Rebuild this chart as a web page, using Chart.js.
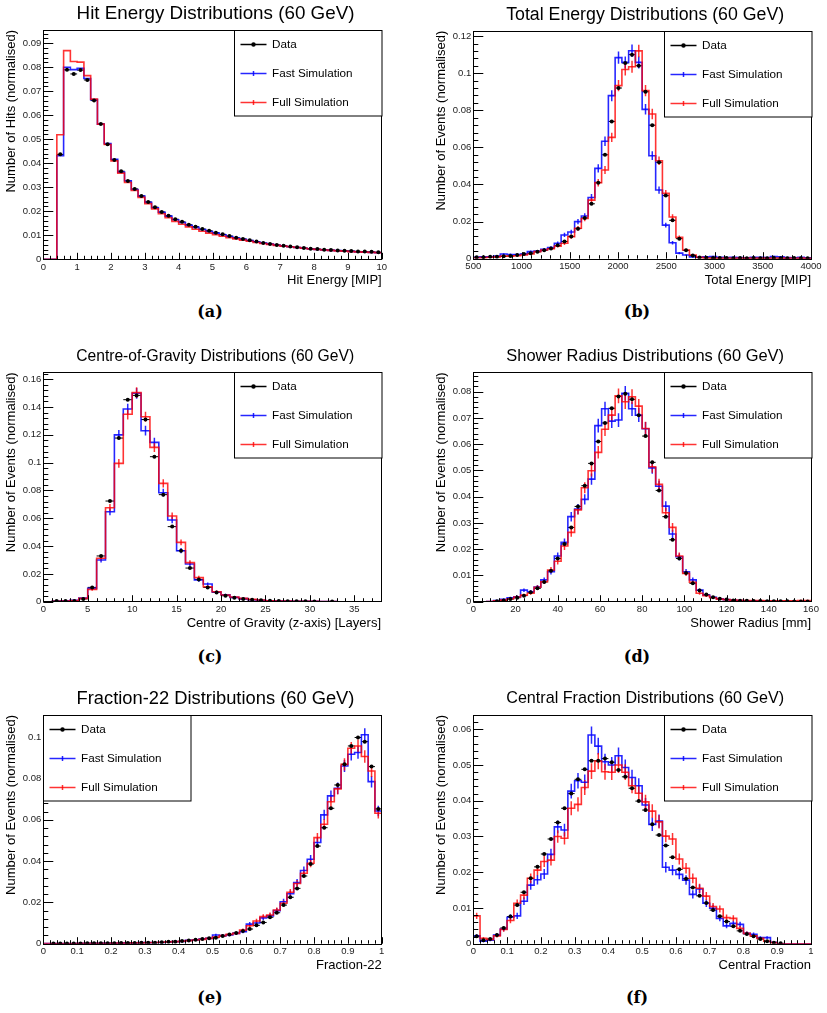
<!DOCTYPE html>
<html lang="en">
<head>
<meta charset="UTF-8">
<title>Distributions (60 GeV)</title>
<script src="https://cdn.jsdelivr.net/npm/chart.js"></script>
<style>
  body { margin: 0; background: #fff; }
  #page { position: relative; width: 827px; height: 1013px; overflow: hidden; background: #fff; }
  canvas { position: absolute; }
  .cap { position: absolute; font: bold 16px "DejaVu Serif", "Liberation Serif", serif; transform: translate(-50%, -50%); color: #000; }
</style>
</head>
<body>
<div id="page">
  <canvas id="hit"></canvas>
  <canvas id="tot"></canvas>
  <canvas id="cog"></canvas>
  <canvas id="rad"></canvas>
  <canvas id="f22"></canvas>
  <canvas id="cf"></canvas>
  <div class="cap" style="left:210px;top:311px">(a)</div>
  <div class="cap" style="left:637px;top:311px">(b)</div>
  <div class="cap" style="left:210px;top:656px">(c)</div>
  <div class="cap" style="left:637px;top:656px">(d)</div>
  <div class="cap" style="left:210px;top:997px">(e)</div>
  <div class="cap" style="left:637px;top:997px">(f)</div>
</div>
<script>
// ---- (a) hit energy, 50 bins 0..10 MIP
const hitXTicks = [0, 1, 2, 3, 4, 5, 6, 7, 8, 9, 10];
const hitYTicks = [0, 0.01, 0.02, 0.03, 0.04, 0.05, 0.06, 0.07, 0.08, 0.09];
const hitData = [null, null, 0.0437, 0.0789, 0.0772, 0.0788, 0.0747, 0.0661, 0.0564, 0.0479,
  0.0414, 0.0367, 0.0326, 0.0293, 0.0264, 0.0239, 0.0217, 0.0197, 0.0181, 0.0167,
  0.0156, 0.0144, 0.0136, 0.0126, 0.0119, 0.0111, 0.0104, 0.0097, 0.0090, 0.0085,
  0.0079, 0.0074, 0.0068, 0.0064, 0.0060, 0.0056, 0.0053, 0.0050, 0.0047, 0.0044,
  0.0043, 0.0040, 0.0039, 0.0037, 0.0036, 0.0035, 0.0033, 0.0032, 0.0031, 0.0029];
const hitFast = [0, 0, 0.0431, 0.0800, 0.0790, 0.0795, 0.0753, 0.0665, 0.0563, 0.0482,
  0.0417, 0.0363, 0.0327, 0.0291, 0.0263, 0.0237, 0.0215, 0.0196, 0.0180, 0.0165,
  0.0153, 0.0142, 0.0133, 0.0124, 0.0116, 0.0109, 0.0102, 0.0095, 0.0089, 0.0083,
  0.0078, 0.0073, 0.0068, 0.0063, 0.0059, 0.0055, 0.0052, 0.0049, 0.0046, 0.0043,
  0.0041, 0.0039, 0.0037, 0.0036, 0.0034, 0.0033, 0.0031, 0.0030, 0.0029, 0.0028];
const hitFull = [0, 0, 0.0519, 0.0869, 0.0824, 0.0821, 0.0765, 0.0667, 0.0563, 0.0478,
  0.0410, 0.0359, 0.0320, 0.0287, 0.0258, 0.0232, 0.0210, 0.0190, 0.0173, 0.0158,
  0.0146, 0.0135, 0.0125, 0.0117, 0.0109, 0.0102, 0.0096, 0.0090, 0.0085, 0.0080,
  0.0075, 0.0070, 0.0066, 0.0062, 0.0058, 0.0055, 0.0052, 0.0049, 0.0046, 0.0043,
  0.0041, 0.0039, 0.0037, 0.0035, 0.0034, 0.0032, 0.0031, 0.0030, 0.0029, 0.0028];

// ---- (b) total energy, 50 bins 500..4000 MIP
const totXTicks = [500, 1000, 1500, 2000, 2500, 3000, 3500, 4000];
const totYTicks = [0, 0.02, 0.04, 0.06, 0.08, 0.1, 0.12];
const totData = [0.0008, 0.0008, 0.0010, 0.0010, 0.0013, 0.0015, 0.0020, 0.0025, 0.0030, 0.0037,
  0.0045, 0.0055, 0.0072, 0.0093, 0.0120, 0.0162, 0.0220, 0.0296, 0.0410, 0.0560,
  0.0740, 0.0920, 0.1055, 0.1100, 0.1040, 0.0900, 0.0720, 0.0520, 0.0340, 0.0207,
  0.0108, 0.0045, 0.0017, 0.0007, 0.0005, 0.0004, 0.0004, 0.0004, 0.0003, 0.0004,
  0.0003, 0.0004, 0.0003, 0.0003, 0.0004, 0.0003, 0.0003, 0.0004, 0.0003, 0.0003];
const totFast = [0.0007, 0.0010, 0.0010, 0.0014, 0.0025, 0.0023, 0.0023, 0.0025, 0.0038, 0.0041,
  0.0050, 0.0060, 0.0083, 0.0128, 0.0144, 0.0200, 0.0230, 0.0330, 0.0487, 0.0633,
  0.0879, 0.1084, 0.1058, 0.1121, 0.1058, 0.0805, 0.0555, 0.0370, 0.0181, 0.0086,
  0.0030, 0.0020, 0.0010, 0.0008, 0.0010, 0.0012, 0.0008, 0.0006, 0.0008, 0.0006,
  0.0005, 0.0007, 0.0008, 0.0006, 0.0012, 0.0010, 0.0006, 0.0005, 0.0007, 0.0005];
const totFull = [0.0005, 0.0006, 0.0008, 0.0010, 0.0014, 0.0014, 0.0016, 0.0020, 0.0025, 0.0038,
  0.0047, 0.0054, 0.0068, 0.0083, 0.0119, 0.0164, 0.0217, 0.0316, 0.0410, 0.0478,
  0.0654, 0.0933, 0.1020, 0.1035, 0.1120, 0.0906, 0.0780, 0.0528, 0.0352, 0.0225,
  0.0115, 0.0047, 0.0020, 0.0007, 0.0004, 0.0003, 0.0003, 0.0003, 0.0002, 0.0003,
  0.0003, 0.0002, 0.0003, 0.0003, 0.0002, 0.0003, 0.0003, 0.0002, 0.0003, 0.0002];

// ---- (c) centre of gravity, 38 bins 0..38 layers
const cogXTicks = [0, 5, 10, 15, 20, 25, 30, 35];
const cogYTicks = [0, 0.02, 0.04, 0.06, 0.08, 0.1, 0.12, 0.14, 0.16];
const cogData = [null, 0.0005, 0.0005, 0.0005, 0.0020, 0.0103, 0.0329, 0.0724, 0.1177, 0.1453,
  0.1484, 0.1310, 0.1043, 0.0770, 0.0540, 0.0367, 0.0242, 0.0160, 0.0103, 0.0067,
  0.0043, 0.0029, 0.0019, 0.0014, 0.0010, 0.0007, 0.0005, 0.0003, 0.0003, 0.0003,
  0.0002, null, 0.0002, null, null, null, null, null];
const cogFast = [0, 0.0003, 0.0007, 0.0010, 0.0026, 0.0096, 0.0300, 0.0647, 0.1200, 0.1386,
  0.1499, 0.1230, 0.1146, 0.0784, 0.0588, 0.0367, 0.0271, 0.0156, 0.0127, 0.0070,
  0.0050, 0.0031, 0.0022, 0.0014, 0.0010, 0.0007, 0.0005, 0.0004, 0.0003, 0.0002,
  0.0002, 0.0001, 0.0001, 0, 0, 0, 0, 0];
const cogFull = [0, 0.0002, 0.0005, 0.0008, 0.0024, 0.0089, 0.0312, 0.0676, 0.0995, 0.1348,
  0.1504, 0.1330, 0.1110, 0.0851, 0.0616, 0.0427, 0.0281, 0.0173, 0.0108, 0.0072,
  0.0048, 0.0034, 0.0024, 0.0017, 0.0012, 0.0007, 0.0005, 0.0005, 0.0003, 0.0002,
  0.0002, 0.0001, 0.0001, 0, 0, 0, 0, 0];

// ---- (d) shower radius, 50 bins 0..160 mm
const radXTicks = [0, 20, 40, 60, 80, 100, 120, 140, 160];
const radYTicks = [0, 0.01, 0.02, 0.03, 0.04, 0.05, 0.06, 0.07, 0.08];
const radData = [null, null, null, 0.0002, 0.0005, 0.0010, 0.0015, 0.0023, 0.0036, 0.0051,
  0.0075, 0.0118, 0.0165, 0.0220, 0.0283, 0.0363, 0.0442, 0.0527, 0.0610, 0.0681,
  0.0737, 0.0782, 0.0792, 0.0771, 0.0710, 0.0631, 0.0531, 0.0424, 0.0324, 0.0236,
  0.0165, 0.0109, 0.0070, 0.0043, 0.0027, 0.0017, 0.0011, 0.0008, 0.0005, 0.0004,
  0.0004, 0.0003, 0.0003, 0.0002, 0.0002, 0.0002, 0.0002, 0.0001, 0.0001, 0.0001];
const radFast = [0, 0, 0.0001, 0.0004, 0.0009, 0.0015, 0.0019, 0.0044, 0.0038, 0.0056,
  0.0083, 0.0114, 0.0174, 0.0226, 0.0324, 0.0353, 0.0390, 0.0467, 0.0671, 0.0735,
  0.0688, 0.0692, 0.0794, 0.0735, 0.0711, 0.0659, 0.0510, 0.0440, 0.0364, 0.0258,
  0.0171, 0.0114, 0.0083, 0.0044, 0.0025, 0.0017, 0.0011, 0.0008, 0.0005, 0.0004,
  0.0003, 0.0003, 0.0002, 0.0002, 0.0002, 0.0001, 0.0001, 0.0001, 0.0001, 0.0001];
const radFull = [0, 0, 0.0001, 0.0003, 0.0006, 0.0011, 0.0018, 0.0025, 0.0032, 0.0055,
  0.0076, 0.0121, 0.0154, 0.0212, 0.0264, 0.0350, 0.0434, 0.0499, 0.0569, 0.0657,
  0.0711, 0.0784, 0.0762, 0.0781, 0.0745, 0.0660, 0.0514, 0.0447, 0.0339, 0.0283,
  0.0174, 0.0108, 0.0074, 0.0032, 0.0023, 0.0015, 0.0010, 0.0008, 0.0006, 0.0005,
  0.0004, 0.0004, 0.0004, 0.0003, 0.0003, 0.0003, 0.0003, 0.0003, 0.0004, 0.0004];

// ---- (e) fraction-22, 50 bins 0..1
const f22XTicks = [0, 0.1, 0.2, 0.3, 0.4, 0.5, 0.6, 0.7, 0.8, 0.9, 1];
const f22YTicks = [0, 0.02, 0.04, 0.06, 0.08, 0.1];
const f22Data = [null, 0.0001, 0.0001, 0.0001, 0.0001, 0.0001, 0.0002, 0.0002, 0.0002, 0.0002,
  0.0002, 0.0003, 0.0003, 0.0003, 0.0004, 0.0005, 0.0005, 0.0007, 0.0009, 0.0010,
  0.0013, 0.0016, 0.0019, 0.0023, 0.0026, 0.0029, 0.0037, 0.0045, 0.0052, 0.0061,
  0.0071, 0.0089, 0.0103, 0.0128, 0.0150, 0.0187, 0.0225, 0.0268, 0.0328, 0.0386,
  0.0473, 0.0562, 0.0656, 0.0769, 0.0869, 0.0958, 0.0999, 0.0979, 0.0858, 0.0653];
const f22Fast = [0.0001, 0.0001, 0.0001, 0.0001, 0.0001, 0.0002, 0.0002, 0.0002, 0.0002, 0.0003,
  0.0003, 0.0003, 0.0004, 0.0004, 0.0005, 0.0005, 0.0006, 0.0006, 0.0008, 0.0010,
  0.0011, 0.0016, 0.0018, 0.0023, 0.0026, 0.0042, 0.0039, 0.0042, 0.0050, 0.0058,
  0.0095, 0.0100, 0.0125, 0.0135, 0.0160, 0.0203, 0.0242, 0.0296, 0.0355, 0.0409,
  0.0490, 0.0624, 0.0716, 0.0753, 0.0861, 0.0918, 0.0926, 0.1012, 0.0785, 0.0643];
const f22Full = [0.0001, 0.0001, 0.0001, 0.0001, 0.0001, 0.0002, 0.0002, 0.0002, 0.0002, 0.0002,
  0.0003, 0.0003, 0.0003, 0.0004, 0.0004, 0.0005, 0.0006, 0.0007, 0.0009, 0.0010,
  0.0012, 0.0015, 0.0018, 0.0021, 0.0026, 0.0032, 0.0039, 0.0045, 0.0050, 0.0066,
  0.0087, 0.0110, 0.0131, 0.0139, 0.0163, 0.0196, 0.0249, 0.0292, 0.0341, 0.0390,
  0.0514, 0.0579, 0.0688, 0.0750, 0.0869, 0.0947, 0.0958, 0.0907, 0.0837, 0.0632];

// ---- (f) central fraction, 50 bins 0..1
const cfXTicks = [0, 0.1, 0.2, 0.3, 0.4, 0.5, 0.6, 0.7, 0.8, 0.9, 1];
const cfYTicks = [0, 0.01, 0.02, 0.03, 0.04, 0.05, 0.06];
const cfData = [0.0021, 0.0010, 0.0013, 0.0024, 0.0044, 0.0076, 0.0108, 0.0144, 0.0183, 0.0215,
  0.0251, 0.0293, 0.0339, 0.0379, 0.0420, 0.0460, 0.0488, 0.0512, 0.0512, 0.0518,
  0.0508, 0.0486, 0.0467, 0.0435, 0.0399, 0.0374, 0.0334, 0.0304, 0.0275, 0.0242,
  0.0208, 0.0182, 0.0157, 0.0134, 0.0114, 0.0094, 0.0077, 0.0062, 0.0049, 0.0036,
  0.0027, 0.0021, 0.0013, 0.0007, 0.0003, 0.0001, null, null, null, null];
const cfFast = [0.0022, 0.0007, 0.0010, 0.0024, 0.0041, 0.0074, 0.0078, 0.0119, 0.0164, 0.0179,
  0.0195, 0.0250, 0.0327, 0.0318, 0.0427, 0.0456, 0.0452, 0.0584, 0.0553, 0.0509,
  0.0500, 0.0526, 0.0493, 0.0465, 0.0442, 0.0388, 0.0334, 0.0343, 0.0214, 0.0206,
  0.0194, 0.0178, 0.0138, 0.0153, 0.0113, 0.0099, 0.0071, 0.0050, 0.0057, 0.0054,
  0.0029, 0.0026, 0.0017, 0.0017, 0.0004, 0, 0, 0, 0, 0];
const cfFull = [0.0078, 0.0015, 0.0012, 0.0022, 0.0040, 0.0065, 0.0113, 0.0136, 0.0183, 0.0206,
  0.0230, 0.0234, 0.0300, 0.0295, 0.0379, 0.0390, 0.0437, 0.0483, 0.0511, 0.0481,
  0.0480, 0.0500, 0.0480, 0.0442, 0.0421, 0.0397, 0.0371, 0.0341, 0.0301, 0.0293,
  0.0237, 0.0211, 0.0183, 0.0155, 0.0133, 0.0104, 0.0097, 0.0073, 0.0071, 0.0043,
  0.0029, 0.0022, 0.0015, 0.0007, 0.0003, 0, 0, 0, 0, 0];

const BLUE = 'rgba(0, 0, 255, 0.85)';
const RED = 'rgba(255, 0, 0, 0.8)';
const FONT = '"Liberation Sans", Arial, Helvetica, sans-serif';
Chart.defaults.font.family = FONT;

// panel layout: canvas box (page px) and plot frame inside it
const panels = [
  { id: 'hit', title: 'Hit Energy Distributions (60 GeV)', xTitle: 'Hit Energy [MIP]', yTitle: 'Number of Hits (normalised)',
    range: [0, 10], yMax: 0.0955, xTicks: hitXTicks, yTicks: hitYTicks, xMinor: 0.2, yMinor: 0.002,
    data: hitData, fast: hitFast, full: hitFull, nEvents: null, legend: 'right',
    box: { x0: 0, y0: 0, w: 410, h: 295, l: 43.3, t: 30, r: 381.7, b: 259.3 } },
  { id: 'tot', title: 'Total Energy Distributions (60 GeV)', xTitle: 'Total Energy [MIP]', yTitle: 'Number of Events (normalised)',
    range: [500, 4000], yMax: 0.1229, xTicks: totXTicks, yTicks: totYTicks, xMinor: 100, yMinor: 0.004,
    data: totData, fast: totFast, full: totFull, nEvents: 10000, legend: 'right',
    box: { x0: 410, y0: 0, w: 417, h: 295, l: 473.3, t: 30.7, r: 811, b: 258.7 } },
  { id: 'cog', title: 'Centre-of-Gravity Distributions (60 GeV)', xTitle: 'Centre of Gravity (z-axis) [Layers]', yTitle: 'Number of Events (normalised)',
    range: [0, 38], yMax: 0.165, xTicks: cogXTicks, yTicks: cogYTicks, xMinor: 1, yMinor: 0.004,
    data: cogData, fast: cogFast, full: cogFull, nEvents: 10000, legend: 'right',
    box: { x0: 0, y0: 340, w: 410, h: 295, l: 43.3, t: 372.3, r: 381, b: 601.7 } },
  { id: 'rad', title: 'Shower Radius Distributions (60 GeV)', xTitle: 'Shower Radius [mm]', yTitle: 'Number of Events (normalised)',
    range: [0, 160], yMax: 0.0874, xTicks: radXTicks, yTicks: radYTicks, xMinor: 4, yMinor: 0.002,
    data: radData, fast: radFast, full: radFull, nEvents: 10000, legend: 'right',
    box: { x0: 410, y0: 340, w: 417, h: 295, l: 473.3, t: 372.3, r: 811, b: 601.7 } },
  { id: 'f22', title: 'Fraction-22 Distributions (60 GeV)', xTitle: 'Fraction-22', yTitle: 'Number of Events (normalised)',
    range: [0, 1], yMax: 0.1108, xTicks: f22XTicks, yTicks: f22YTicks, xMinor: 0.02, yMinor: 0.004,
    data: f22Data, fast: f22Fast, full: f22Full, nEvents: 10000, legend: 'left',
    box: { x0: 0, y0: 685, w: 410, h: 295, l: 43.3, t: 715, r: 381.7, b: 943.7 } },
  { id: 'cf', title: 'Central Fraction Distributions (60 GeV)', xTitle: 'Central Fraction', yTitle: 'Number of Events (normalised)',
    range: [0, 1], yMax: 0.064, xTicks: cfXTicks, yTicks: cfYTicks, xMinor: 0.02, yMinor: 0.002,
    data: cfData, fast: cfFast, full: cfFull, nEvents: 10000, legend: 'right',
    box: { x0: 410, y0: 685, w: 417, h: 295, l: 473.3, t: 715, r: 811, b: 943.7 } }
];

const fmt = v => String(+v.toFixed(4));

// ROOT-like frame, inner ticks, error bars, legend and titles
function rootPlugin(p) {
  const line = (ctx, x1, y1, x2, y2) => { ctx.beginPath(); ctx.moveTo(x1, y1); ctx.lineTo(x2, y2); ctx.stroke(); };
  return {
    id: 'root_' + p.id,
    beforeDatasetsDraw(chart) {
      const { ctx, chartArea: a, scales: { x, y } } = chart;
      ctx.save();
      ctx.beginPath(); ctx.rect(a.left, a.top, a.right - a.left, a.bottom - a.top); ctx.clip();
      ctx.strokeStyle = '#000'; ctx.lineWidth = 1;
      p.data.forEach((v, k) => {
        if (v == null) return;
        const py = y.getPixelForValue(v);
        line(ctx, x.getPixelForValue(p.edges[k]), py, x.getPixelForValue(p.edges[k + 1]), py);
      });
      if (p.nEvents) {
        [[p.fast, BLUE], [p.full, RED]].forEach(([vals, col]) => {
          ctx.strokeStyle = col; ctx.lineWidth = 1.5;
          vals.forEach((v, k) => {
            if (!v) return;
            const e = Math.sqrt(v / p.nEvents);
            const px = x.getPixelForValue((p.edges[k] + p.edges[k + 1]) / 2);
            line(ctx, px, y.getPixelForValue(v - e), px, y.getPixelForValue(v + e));
          });
        });
      }
      ctx.restore();
    },
    afterDraw(chart) {
      const { ctx, chartArea: a, scales: { x, y } } = chart;
      ctx.save();
      ctx.strokeStyle = '#000'; ctx.lineWidth = 1;
      // x ticks (inside, upward)
      for (let i = 0; ; i++) {
        const v = p.range[0] + i * p.xMinor;
        if (v > p.range[1] + 1e-9) break;
        const px = Math.round(x.getPixelForValue(v)) + 0.5;
        const major = p.xTicks.some(t => Math.abs(t - v) < p.xMinor * 1e-3);
        line(ctx, px, a.bottom, px, a.bottom - (major ? 6.5 : 3.5));
      }
      // y ticks (inside, rightward)
      for (let i = 0; ; i++) {
        const v = i * p.yMinor;
        if (v > p.yMax + 1e-9) break;
        const py = Math.round(y.getPixelForValue(v)) + 0.5;
        const major = p.yTicks.some(t => Math.abs(t - v) < p.yMinor * 1e-3);
        line(ctx, a.left, py, a.left + (major ? 10 : 5), py);
      }
      ctx.strokeRect(Math.round(a.left) + 0.5, Math.round(a.top) + 0.5, Math.round(a.right - a.left), Math.round(a.bottom - a.top));

      // legend box
      const lw = 147.5, lh = 85.5;
      const lx = Math.round(p.legend === 'left' ? a.left : a.right - lw) + 0.5;
      const ly = Math.round(a.top) + 0.5;
      ctx.fillStyle = '#fff'; ctx.fillRect(lx, ly, lw, lh);
      ctx.strokeStyle = '#000'; ctx.lineWidth = 1; ctx.strokeRect(lx, ly, lw, lh);
      const ds = chart.data.datasets;
      [ds[0], ds[2], ds[1]].forEach((d, i) => {
        const yy = ly + 14 + i * 29;
        ctx.strokeStyle = d.legendColor; ctx.lineWidth = 1.5;
        line(ctx, lx + 6, yy, lx + 32, yy);
        if (i === 0) {
          ctx.fillStyle = '#000'; ctx.beginPath(); ctx.arc(lx + 19, yy, 2.2, 0, Math.PI * 2); ctx.fill();
        } else {
          line(ctx, lx + 19, yy - 2.5, lx + 19, yy + 2.5);
        }
        ctx.fillStyle = '#000'; ctx.font = '11.7px ' + FONT; ctx.textAlign = 'left'; ctx.textBaseline = 'middle';
        ctx.fillText(d.label, lx + 37.5, yy + 0.5);
      });

      // panel title, fitted to a fixed width
      ctx.fillStyle = '#000'; ctx.textAlign = 'center'; ctx.textBaseline = 'middle';
      ctx.font = '100px ' + FONT;
      const tw = ctx.measureText(p.title).width;
      ctx.font = Math.min(19, 100 * 278 / tw).toFixed(2) + 'px ' + FONT;
      ctx.fillText(p.title, (a.left + a.right) / 2 + 3, a.top - 16);

      // axis titles
      ctx.font = '13px ' + FONT;
      ctx.textAlign = 'right';
      ctx.fillText(p.xTitle, a.right, a.bottom + 21.5);
      ctx.save();
      ctx.translate(a.left - 31.6, a.top);
      ctx.rotate(-Math.PI / 2);
      ctx.fillText(p.yTitle, 0, 0);
      ctx.restore();
      ctx.restore();
    }
  };
}

panels.forEach(p => {
  const bx = p.box;
  const n = p.data.length;
  const bw = (p.range[1] - p.range[0]) / n;
  p.edges = [];
  for (let k = 0; k <= n; k++) p.edges.push(p.range[0] + k * bw);
  // each bin value holds from its low edge to the next edge
  const step = vals => vals.map((v, k) => ({ x: p.edges[k], y: v || 0 }))
    .concat([{ x: p.edges[n], y: vals[n - 1] || 0 }]);
  const points = [];
  p.data.forEach((v, k) => { if (v != null) points.push({ x: (p.edges[k] + p.edges[k + 1]) / 2, y: v }); });

  const cv = document.getElementById(p.id);
  cv.width = bx.w; cv.height = bx.h;
  cv.style.left = bx.x0 + 'px'; cv.style.top = bx.y0 + 'px';

  new Chart(cv, {
    type: 'line',
    data: {
      datasets: [
        { label: 'Data', data: points, showLine: false, pointRadius: 2, pointBackgroundColor: '#000',
          pointBorderWidth: 0, borderColor: '#000', legendColor: '#000' },
        { label: 'Full Simulation', data: step(p.full), stepped: 'before', borderColor: RED, borderWidth: 1.6,
          pointRadius: 0, fill: false, legendColor: RED },
        { label: 'Fast Simulation', data: step(p.fast), stepped: 'before', borderColor: BLUE, borderWidth: 1.6,
          pointRadius: 0, fill: false, legendColor: BLUE }
      ]
    },
    options: {
      responsive: false,
      animation: false,
      events: [],
      layout: { padding: { left: 0, top: bx.t - bx.y0, right: bx.x0 + bx.w - bx.r, bottom: 0 } },
      plugins: { legend: { display: false }, tooltip: { enabled: false } },
      scales: {
        x: {
          type: 'linear', min: p.range[0], max: p.range[1],
          afterFit: s => { s.height = bx.y0 + bx.h - bx.b; },
          afterBuildTicks: s => { s.ticks = p.xTicks.map(v => ({ value: v })); },
          grid: { display: false, drawTicks: false },
          border: { display: false },
          ticks: { autoSkip: false, maxRotation: 0, padding: 2, color: '#222', font: { size: 9.5 }, callback: fmt }
        },
        y: {
          type: 'linear', min: 0, max: p.yMax,
          afterFit: s => { s.width = bx.l - bx.x0; },
          afterBuildTicks: s => { s.ticks = p.yTicks.map(v => ({ value: v })); },
          grid: { display: false, drawTicks: false },
          border: { display: false },
          ticks: { autoSkip: false, padding: 2, color: '#222', font: { size: 9.5 }, callback: fmt }
        }
      }
    },
    plugins: [rootPlugin(p)]
  });
});
</script>
</body>
</html>
